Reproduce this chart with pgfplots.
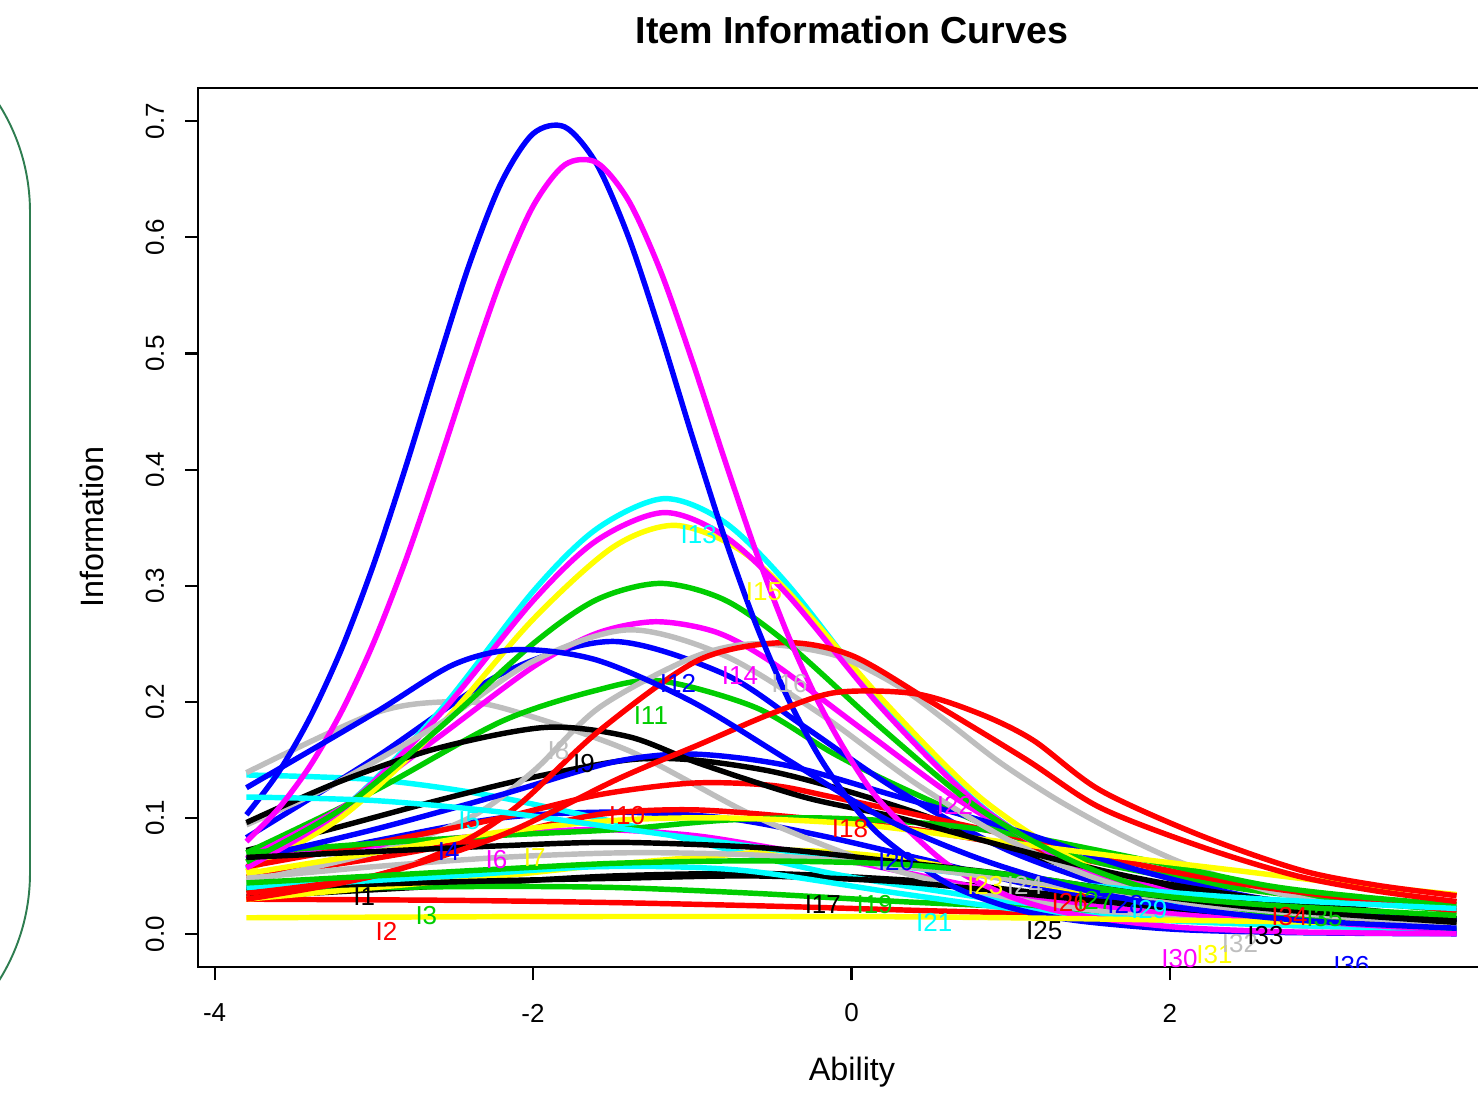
\documentclass[border=0pt]{standalone}
\usepackage{pgfplots}
\pgfplotsset{compat=1.18}
\usepackage{fontspec}
\setmainfont{Liberation Sans}

\definecolor{rblack}{RGB}{0,0,0}
\definecolor{rred}{RGB}{255,0,0}
\definecolor{rgreen}{RGB}{0,205,0}
\definecolor{rblue}{RGB}{0,0,255}
\definecolor{rcyan}{RGB}{0,255,255}
\definecolor{rmag}{RGB}{255,0,255}
\definecolor{ryellow}{RGB}{255,255,0}
\definecolor{rgray}{RGB}{190,190,190}
\definecolor{frame}{RGB}{46,125,80}

\newcommand{\lab}{\fontsize{7.4}{8.5}\selectfont}

\begin{document}
\begin{tikzpicture}
\useasboundingbox (0,0) rectangle (14.78cm,10.94cm);
% edge of a panel on the left
\draw[frame, line width=0.55pt, rounded corners=2.02cm]
  (-3cm,10.84cm) -- (0.30cm,10.84cm) -- (0.30cm,0.19cm) -- (-3cm,0.19cm);

\begin{axis}[
  at={(1.98cm,1.27cm)}, anchor=south west,
  scale only axis, width=13.07cm, height=8.79cm,
  xmin=-4.104, xmax=4.104, ymin=-0.0284, ymax=0.7287,
  xtick={-4,-2,0,2}, xticklabels={-4,-2,0,2},
  ytick={0,0.1,0.2,0.3,0.4,0.5,0.6,0.7},
  yticklabels={0.0,0.1,0.2,0.3,0.4,0.5,0.6,0.7},
  xtick pos=bottom, ytick pos=left,
  tick align=outside, major tick length=0.13cm,
  tick style={black, line width=0.6pt},
  axis line style={line width=0.6pt},
  ticklabel style={font=\lab},
  xticklabel style={anchor=center, yshift=-0.33cm},
  yticklabel style={xshift=-0.30cm, rotate=90, anchor=center},
  every axis plot/.append style={line width=1.55pt, smooth},
]
% I1
\addplot[rblack] coordinates {(-3.8,0.032)(-2.5,0.042)(-1.5,0.05)(-0.5,0.052)(0.5,0.045)(1.2,0.035)(2.0,0.022)(2.8,0.015)(3.8,0.01)};
% I2
\addplot[rred] coordinates {(-3.8,0.03)(-2.5,0.029)(-1.47,0.027)(-0.5,0.024)(0.5,0.02)(1.06,0.018)(1.8,0.014)(2.6,0.01)(3.8,0.006)};
% I3
\addplot[rgreen] coordinates {(-3.8,0.038)(-3.0,0.04)(-2.2,0.041)(-1.47,0.04)(-0.6,0.035)(0.3,0.028)(1.06,0.023)(1.8,0.015)(2.6,0.009)(3.8,0.004)};
% I4
\addplot[rblue] coordinates {(-3.8,0.058)(-3.0,0.08)(-2.2,0.1)(-1.5,0.105)(-0.8,0.1)(-0.2,0.085)(0.43,0.065)(1.2,0.04)(2.0,0.022)(2.8,0.01)(3.8,0.003)};
% I5
\addplot[rcyan] coordinates {(-3.8,0.137)(-3.0,0.133)(-2.3,0.12)(-1.47,0.096)(-0.75,0.072)(-0.12,0.052)(0.5,0.038)(1.06,0.027)(1.8,0.018)(2.6,0.011)(3.8,0.005)};
% I6
\addplot[rmag] coordinates {(-3.8,0.066)(-3.0,0.076)(-2.2,0.086)(-1.585,0.09)(-1.0,0.085)(-0.53,0.075)(0.09,0.06)(1.06,0.033)(1.8,0.02)(2.6,0.012)(3.8,0.006)};
% I7
\addplot[ryellow] coordinates {(-3.8,0.03)(-3.0,0.04)(-2.2,0.05)(-1.585,0.059)(-0.8,0.068)(-0.33,0.072)(0.3,0.065)(1.06,0.046)(1.8,0.03)(2.6,0.018)(3.8,0.008)};
% I8
\addplot[rgray] coordinates {(-3.8,0.139)(-3.0,0.19)(-2.55,0.2)(-2.2,0.195)(-1.4,0.158)(-0.6,0.101)(0.2,0.058)(1.0,0.031)(1.8,0.016)(2.6,0.008)(3.8,0.003)};
% I9
\addplot[rblack] coordinates {(-3.8,0.072)(-3.28,0.09)(-2.6,0.115)(-2.0,0.135)(-1.4,0.15)(-1.0,0.15)(-0.5,0.14)(0.0,0.122)(0.5,0.1)(1.06,0.07)(1.8,0.045)(2.6,0.028)(3.8,0.013)};
% I10
\addplot[rred] coordinates {(-3.8,0.049)(-3.0,0.065)(-2.2,0.085)(-1.585,0.103)(-1.0,0.107)(-0.3,0.1)(0.4,0.09)(1.06,0.075)(1.8,0.055)(2.6,0.038)(3.8,0.022)};
% I11
\addplot[rgreen] coordinates {(-3.8,0.07)(-3.0,0.123)(-2.2,0.183)(-1.6,0.21)(-1.2,0.218)(-0.6,0.195)(-0.12,0.156)(0.3,0.127)(1.0,0.085)(1.6,0.06)(2.4,0.04)(3.0,0.03)(3.8,0.02)};
% I12
\addplot[rblue] coordinates {(-3.8,0.083)(-3.0,0.151)(-2.2,0.224)(-1.5,0.252)(-0.8,0.224)(-0.3,0.179)(0.3,0.123)(1.0,0.071)(1.8,0.034)(2.6,0.016)(3.8,0.005)};
% I13
\addplot[rcyan] coordinates {(-3.8,0.056)(-3.2,0.1075)(-2.6,0.19)(-2.0,0.295)(-1.6,0.349)(-1.18,0.375)(-0.8,0.355)(-0.4,0.301)(0.2,0.197)(0.8,0.112)(1.4,0.0585)(2.0,0.0293)(2.8,0.0113)(3.8,0.0033)};
% I14
\addplot[rmag] coordinates {(-3.8,0.065)(-3.2,0.109)(-2.6,0.169)(-2.0,0.23)(-1.6,0.259)(-1.23,0.269)(-0.85,0.26)(-0.5,0.234)(0.1,0.173)(0.7,0.113)(1.3,0.068)(2.0,0.0365)(2.8,0.016)(3.8,0.0058)};
% I15
\addplot[ryellow] coordinates {(-3.8,0.054)(-3.2,0.101)(-2.6,0.177)(-2.0,0.271)(-1.5,0.333)(-1.12,0.352)(-0.75,0.335)(-0.4,0.295)(0.2,0.201)(0.8,0.1185)(1.4,0.064)(2.0,0.033)(2.8,0.013)(3.8,0.004)};
% I16
\addplot[rgray] coordinates {(-3.8,0.045)(-3.0,0.07)(-2.4,0.1)(-2.0,0.14)(-1.585,0.195)(-1.0,0.238)(-0.6,0.25)(-0.1,0.24)(0.3,0.213)(0.6,0.183)(0.93,0.148)(1.3,0.115)(1.7,0.085)(2.1,0.06)(2.6,0.038)(3.2,0.021)(3.8,0.012)};
% I17
\addplot[rblack] coordinates {(-3.8,0.04)(-3.0,0.043)(-2.2,0.046)(-1.47,0.048)(-0.6,0.05)(0.3,0.045)(1.06,0.035)(1.8,0.025)(2.6,0.016)(3.8,0.009)};
% I18
\addplot[rred] coordinates {(-3.8,0.058)(-3.0,0.078)(-2.2,0.1)(-1.585,0.12)(-1.0,0.13)(-0.5,0.128)(-0.12,0.118)(0.5,0.1)(1.06,0.083)(1.8,0.06)(2.6,0.04)(3.8,0.02)};
% I19
\addplot[rgreen] coordinates {(-3.8,0.07)(-3.0,0.078)(-2.2,0.085)(-1.47,0.09)(-0.8,0.098)(-0.2,0.1)(0.5,0.095)(1.06,0.085)(1.8,0.065)(2.6,0.042)(3.2,0.032)(3.8,0.025)};
% I20
\addplot[rblue] coordinates {(-3.8,0.064)(-3.0,0.09)(-2.2,0.12)(-1.5,0.148)(-1.0,0.155)(-0.4,0.145)(0.3,0.118)(1.06,0.088)(1.8,0.055)(2.6,0.03)(3.8,0.012)};
% I21
\addplot[rcyan] coordinates {(-3.8,0.04)(-2.5,0.05)(-1.585,0.058)(-0.7,0.055)(0.3,0.035)(1.06,0.021)(1.8,0.013)(2.6,0.008)(3.8,0.004)};
% I22
\addplot[rmag] coordinates {(-3.8,0.057)(-3.2,0.107)(-2.6,0.187)(-2.0,0.287)(-1.6,0.339)(-1.18,0.363)(-0.8,0.343)(-0.4,0.292)(0.2,0.193)(0.8,0.111)(1.4,0.059)(2.0,0.030)(2.8,0.012)(3.8,0.0036)};
% I23
\addplot[ryellow] coordinates {(-3.8,0.052)(-3.0,0.07)(-2.2,0.088)(-1.47,0.098)(-0.8,0.1)(0.0,0.095)(0.8,0.082)(1.6,0.068)(2.4,0.055)(3.0,0.045)(3.8,0.034)};
% I24
\addplot[rgray] coordinates {(-3.8,0.094)(-3.28,0.127)(-2.6,0.18)(-2.0,0.235)(-1.4,0.262)(-0.8,0.24)(-0.2,0.19)(0.4,0.13)(1.0,0.08)(1.6,0.045)(2.4,0.02)(3.8,0.005)};
% I25
\addplot[rblack] coordinates {(-3.8,0.096)(-3.22,0.131)(-2.6,0.16)(-1.92,0.178)(-1.4,0.17)(-0.956,0.147)(-0.3,0.118)(0.3,0.1)(1.06,0.072)(1.8,0.048)(2.6,0.03)(3.8,0.013)};
% I26
\addplot[rred] coordinates {(-3.8,0.035)(-3.0,0.05)(-2.5,0.075)(-2.1,0.11)(-1.585,0.175)(-0.96,0.236)(-0.43,0.251)(0.0,0.24)(0.5,0.2)(1.1,0.15)(1.56,0.109)(2.2,0.075)(2.8,0.05)(3.3,0.037)(3.8,0.028)};
% I27
\addplot[rgreen] coordinates {(-3.8,0.062)(-3.2,0.108)(-2.6,0.176)(-2.0,0.25)(-1.6,0.288)(-1.2,0.302)(-0.8,0.288)(-0.4,0.25)(0.2,0.176)(0.8,0.108)(1.4,0.062)(2.0,0.034)(2.8,0.0145)(3.8,0.005)};
% I28
\addplot[rblue] coordinates {(-3.8,0.1027)(-3.6,0.139)(-3.4,0.1866)(-3.2,0.2463)(-3.0,0.3188)(-2.8,0.4021)(-2.6,0.491)(-2.4,0.5769)(-2.2,0.6471)(-2.0,0.6893)(-1.8,0.6951)(-1.6,0.6631)(-1.4,0.6002)(-1.2,0.5177)(-1.0,0.4285)(-0.8,0.3428)(-0.6,0.2667)(-0.4,0.2032)(-0.2,0.1522)(0.0,0.1127)(0.2,0.0826)(0.6,0.0437)(1.0,0.0227)(1.4,0.0118)(2.0,0.0043)(2.6,0.0016)(3.2,0.0006)(3.8,0.0002)};
% I29
\addplot[rcyan] coordinates {(-3.8,0.118)(-3.0,0.115)(-2.2,0.105)(-1.4,0.09)(-0.6,0.075)(0.2,0.06)(1.0,0.048)(1.8,0.038)(2.6,0.03)(3.8,0.022)};
% I30
\addplot[rmag] coordinates {(-3.8,0.0797)(-3.6,0.1079)(-3.4,0.1449)(-3.2,0.1923)(-3.0,0.2513)(-2.8,0.3218)(-2.6,0.4016)(-2.4,0.4852)(-2.2,0.5641)(-2.0,0.6268)(-1.8,0.6626)(-1.6,0.6644)(-1.4,0.6317)(-1.2,0.5713)(-1.0,0.4936)(-0.8,0.4099)(-0.6,0.3294)(-0.4,0.2578)(-0.2,0.1977)(0.0,0.1491)(0.2,0.1112)(0.6,0.0603)(1.0,0.0321)(1.4,0.0169)(2.0,0.0064)(2.6,0.0024)(3.2,0.0009)(3.8,0.0003)};
% I31
\addplot[ryellow] coordinates {(-3.8,0.014)(-2.0,0.015)(0.0,0.015)(1.0,0.014)(2.0,0.012)(3.0,0.01)(3.8,0.008)};
% I32
\addplot[rgray] coordinates {(-3.8,0.048)(-3.0,0.058)(-2.2,0.066)(-1.4,0.07)(-0.6,0.068)(0.2,0.06)(1.0,0.047)(1.8,0.033)(2.6,0.02)(3.8,0.008)};
% I33
\addplot[rblack] coordinates {(-3.8,0.066)(-3.0,0.071)(-2.2,0.076)(-1.47,0.079)(-0.53,0.074)(0.3,0.062)(1.06,0.05)(1.8,0.035)(2.6,0.022)(3.8,0.01)};
% I34
\addplot[rred] coordinates {(-3.8,0.03)(-3.0,0.05)(-2.2,0.085)(-1.46,0.134)(-0.96,0.163)(-0.5,0.19)(-0.1,0.208)(0.4,0.207)(0.8,0.19)(1.14,0.167)(1.56,0.124)(2.19,0.085)(2.82,0.055)(3.3,0.042)(3.8,0.033)};
% I35
\addplot[rgreen] coordinates {(-3.8,0.044)(-3.0,0.05)(-2.2,0.056)(-1.47,0.061)(-0.6,0.063)(0.3,0.06)(1.06,0.05)(1.8,0.035)(2.6,0.025)(3.8,0.016)};
% I36
\addplot[rblue] coordinates {(-3.8,0.126)(-3.0,0.19)(-2.5,0.232)(-2.1,0.245)(-1.6,0.236)(-1.0,0.2)(-0.4,0.15)(0.2,0.1)(0.8,0.065)(1.4,0.04)(2.0,0.024)(2.8,0.012)(3.8,0.005)};

% item labels
\begin{scope}[every node/.style={font=\lab, inner sep=0pt}]
\node[text=rblack]  at (axis cs:-3.06,0.032) {I1};
\node[text=rred]    at (axis cs:-2.92,0.002) {I2};
\node[text=rgreen]  at (axis cs:-2.67,0.016) {I3};
\node[text=rblue]   at (axis cs:-2.53,0.071) {I4};
\node[text=rcyan]   at (axis cs:-2.40,0.098) {I5};
\node[text=rmag]    at (axis cs:-2.23,0.064) {I6};
\node[text=ryellow] at (axis cs:-1.99,0.066) {I7};
\node[text=rgray]   at (axis cs:-1.84,0.158) {I8};
\node[text=rblack]  at (axis cs:-1.68,0.147) {I9};
\node[text=rred]    at (axis cs:-1.41,0.102) {I10};
\node[text=rgreen]  at (axis cs:-1.26,0.188) {I11};
\node[text=rblue]   at (axis cs:-1.09,0.216) {I12};
\node[text=rcyan]   at (axis cs:-0.96,0.344) {I13};
\node[text=rmag]    at (axis cs:-0.70,0.223) {I14};
\node[text=ryellow] at (axis cs:-0.55,0.295) {I15};
\node[text=rgray]   at (axis cs:-0.39,0.216) {I16};
\node[text=rblack]  at (axis cs:-0.18,0.025) {I17};
\node[text=rred]    at (axis cs:-0.01,0.091) {I18};
\node[text=rgreen]  at (axis cs:0.145,0.025) {I19};
\node[text=rblue]   at (axis cs:0.28,0.062) {I20};
\node[text=rcyan]   at (axis cs:0.52,0.010) {I21};
\node[text=rmag]    at (axis cs:0.65,0.111) {I22};
\node[text=ryellow] at (axis cs:0.84,0.042) {I23};
\node[text=rgray]   at (axis cs:1.09,0.042) {I24};
\node[text=rblack]  at (axis cs:1.21,0.003) {I25};
\node[text=rred]    at (axis cs:1.37,0.027) {I26};
\node[text=rgreen]  at (axis cs:1.53,0.029) {I27};
\node[text=rblue]   at (axis cs:1.72,0.025) {I28};
\node[text=rcyan]   at (axis cs:1.87,0.021) {I29};
\node[text=rmag]    at (axis cs:2.06,-0.021) {I30};
\node[text=ryellow] at (axis cs:2.28,-0.018) {I31};
\node[text=rgray]   at (axis cs:2.44,-0.008) {I32};
\node[text=rblack]  at (axis cs:2.60,-0.001) {I33};
\node[text=rred]    at (axis cs:2.75,0.015) {I34};
\node[text=rgreen]  at (axis cs:2.97,0.014) {I35};
\node[text=rblue]   at (axis cs:3.14,-0.027) {I36};
\end{scope}
\end{axis}

\node[font=\fontsize{10.7}{12}\selectfont\bfseries] at (8.52cm,10.64cm) {Item Information Curves};
\node[font=\fontsize{9.2}{11}\selectfont] at (8.52cm,0.22cm) {Ability};
\node[font=\fontsize{9.2}{11}\selectfont, rotate=90] at (0.92cm,5.67cm) {Information};
\end{tikzpicture}
\end{document}
